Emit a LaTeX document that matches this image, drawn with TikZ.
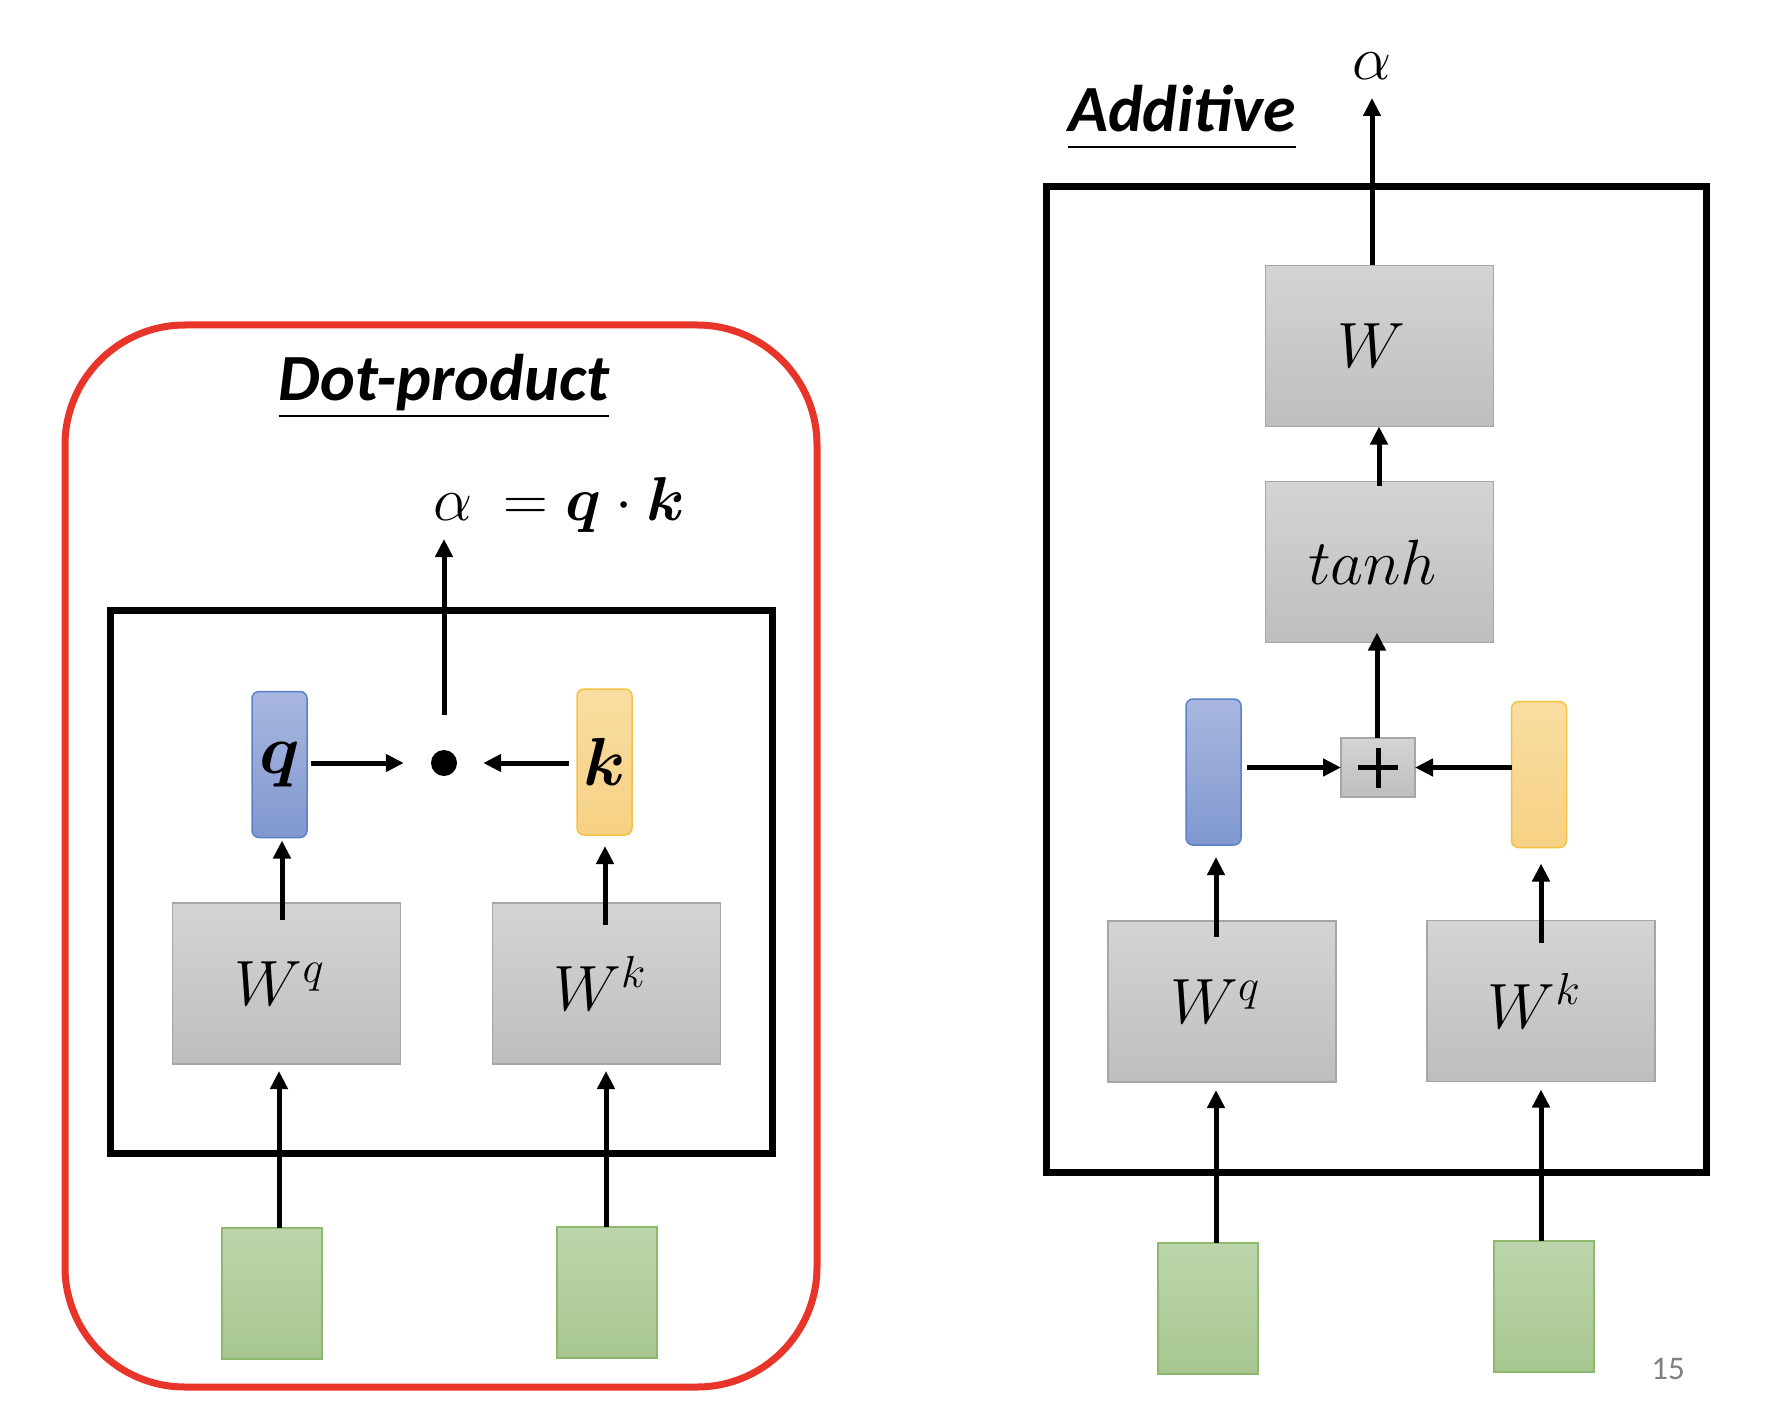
\RequirePackage{fix-cm}
\documentclass[tikz,border=0pt]{standalone}
\usepackage{amsmath,bm}
\usepackage{fontspec}
\setmainfont{Carlito}
\usetikzlibrary{arrows.meta,shadings}
\definecolor{gtop}{HTML}{D4D4D4}
\definecolor{gbot}{HTML}{BEBEBE}
\definecolor{gbor}{HTML}{A6A6A6}
\definecolor{btop}{HTML}{A9B7DF}
\definecolor{bbot}{HTML}{8098CF}
\definecolor{bbor}{HTML}{5A7FCA}
\definecolor{otop}{HTML}{F9DDA2}
\definecolor{obot}{HTML}{F7D184}
\definecolor{obor}{HTML}{F4C243}
\definecolor{grtop}{HTML}{BCD5AC}
\definecolor{grbot}{HTML}{A8C78F}
\definecolor{grbor}{HTML}{8DB86E}
\definecolor{redline}{HTML}{E8352A}
\definecolor{pagegray}{HTML}{808080}
\tikzset{
  box/.style={rectangle, inner sep=0pt, outer sep=0pt},
  graybox/.style={box, draw=gbor, line width=1.2pt, top color=gtop, bottom color=gbot,
    minimum width=228pt, minimum height=161pt, font=\fontsize{64}{70}\selectfont},
  bluebox/.style={box, draw=bbor, line width=1.5pt, top color=btop, bottom color=bbot,
    rounded corners=7pt, minimum width=55pt, minimum height=146pt, font=\fontsize{70}{74}\selectfont},
  orangebox/.style={box, draw=obor, line width=1.5pt, top color=otop, bottom color=obot,
    rounded corners=7pt, minimum width=55pt, minimum height=146pt, font=\fontsize{68}{72}\selectfont},
  greenbox/.style={box, draw=grbor, line width=2pt, top color=grtop, bottom color=grbot,
    minimum width=100pt, minimum height=131pt},
  frame/.style={box, draw=black, line width=7pt},
  title/.style={inner sep=0pt, anchor=base, font=\fontsize{66}{72}\selectfont\bfseries\itshape},
  mathlbl/.style={inner sep=0pt, anchor=base, font=\fontsize{62}{70}\selectfont},
  arr/.style={line width=5pt, -{Triangle[length=18pt,width=17pt]}},
  uline/.style={line width=2.5pt},
}
\begin{document}
\begin{tikzpicture}[x=1pt,y=-1pt]
\useasboundingbox (0,0) rectangle (1780,1420);

% ---------------- Dot-product ----------------
\node[box, draw=redline, line width=7pt, rounded corners=120pt,
      minimum width=752pt, minimum height=1062pt] (red) at (441,856) {};
\node[title] (t1) at (444,400) {Dot-product};
\draw[uline] ([yshift=-16pt]t1.base west) -- ([yshift=-16pt]t1.base east);
\node[frame, minimum width=662pt, minimum height=543pt] (f1) at (441,881.5) {};
\node[mathlbl] (eq) at (559,520) {$\alpha\ =\bm{q}\cdot\bm{k}$};
\coordinate (aout1) at (444,539);

\node[circle, fill=black, minimum size=26pt, inner sep=0pt] (dot) at (444,763) {};
\node[bluebox] (q1) at (279.5,764.5) {$\bm{q}$};
\node[orangebox] (k1) at (604.5,762) {$\bm{k}$};
\node[graybox] (wq1) at (286.5,983.5) {\hspace*{-14pt}$W^{q}$};
\node[graybox] (wk1) at (606.5,983.5) {\hspace*{-14pt}$W^{k}$};
\node[greenbox] (g1) at (272,1293.5) {};
\node[greenbox] (g2) at (607,1292.5) {};

\coordinate (xa) at (279,0);
\coordinate (xb) at (606,0);
\coordinate (xc) at (282,0);
\coordinate (xd) at (605,0);

\draw[arr] (aout1 |- dot.north) ++(0,-35) -- (aout1);
\draw[arr, shorten <=4pt, shorten >=27pt] (q1.east |- dot) -- (dot);
\draw[arr, shorten <=8pt, shorten >=26pt] (k1.west |- dot) -- (dot);
\draw[arr, shorten <=-17pt, shorten >=3pt] (wq1.north -| xc) -- (q1.south -| xc);
\draw[arr, shorten <=-22pt, shorten >=11pt] (wk1.north -| xd) -- (k1.south -| xd);
\draw[arr, shorten >=7pt] (g1.north -| xa) -- (wq1.south -| xa);
\draw[arr, shorten >=7pt] (g2.north -| xb) -- (wk1.south -| xb);

% ---------------- Additive ----------------
\node[frame, minimum width=660pt, minimum height=985pt] (f2) at (1376,679.5) {};
\node[title] (t2) at (1182,132) {Additive};
\draw[uline] ([yshift=-15pt]t2.base west) -- ([yshift=-15pt]t2.base east);
\node[mathlbl] (a2) at (1372,80) {$\alpha$};
\coordinate (aout2) at (1372,98);

\node[graybox] (w) at (1379.5,346) {\hspace*{-16pt}$W$};
\node[graybox] (th) at (1379.5,562) {\hspace*{-14pt}$tanh$};
\node[box, draw=gbor, line width=1.2pt, top color=gtop, bottom color=gbot,
      minimum width=74pt, minimum height=59pt] (plus) at (1378,767.5) {};
\draw[line width=5pt] ([xshift=-20pt]plus.center) -- ([xshift=20pt]plus.center);
\draw[line width=5pt] ([yshift=-20pt]plus.center) -- ([yshift=20pt]plus.center);
\node[bluebox] (q2) at (1213.5,772) {};
\node[orangebox] (k2) at (1539,774.5) {};
\node[graybox] (wq2) at (1222,1001.5) {\hspace*{-14pt}$W^{q}$};
\node[graybox] (wk2) at (1541,1001) {\hspace*{-14pt}$W^{k}$};
\node[greenbox] (g3) at (1208,1308) {};
\node[greenbox] (g4) at (1544,1306.5) {};

\coordinate (xe) at (1216,0);
\coordinate (xf) at (1541,0);
\coordinate (xg) at (1379,0);
\coordinate (xh) at (1377,0);

\draw[arr] (w.north -| aout2) -- (aout2);
\draw[arr, shorten <=-4pt] (th.north -| xg) -- (w.south -| xg);
\draw[arr, shorten >=-10pt] (plus.north -| xh) -- (th.south -| xh);
\draw[arr, shorten <=6pt] (q2.east |- plus) -- (plus.west);
\draw[arr] (k2.west |- plus) -- (plus.east);
\draw[arr, shorten <=-16pt, shorten >=12pt] (wq2.north -| xe) -- (q2.south -| xe);
\draw[arr, shorten <=-22pt, shorten >=16pt] (wk2.north -| xf) -- (k2.south -| xf);
\draw[arr, shorten >=8pt] (g3.north -| xe) -- (wq2.south -| xe);
\draw[arr, shorten >=8pt] (g4.north -| xf) -- (wk2.south -| xf);

\node[inner sep=0pt, text=pagegray, font=\fontsize{33}{36}\selectfont] (pg) at (1668,1369) {15};
\end{tikzpicture}
\end{document}
